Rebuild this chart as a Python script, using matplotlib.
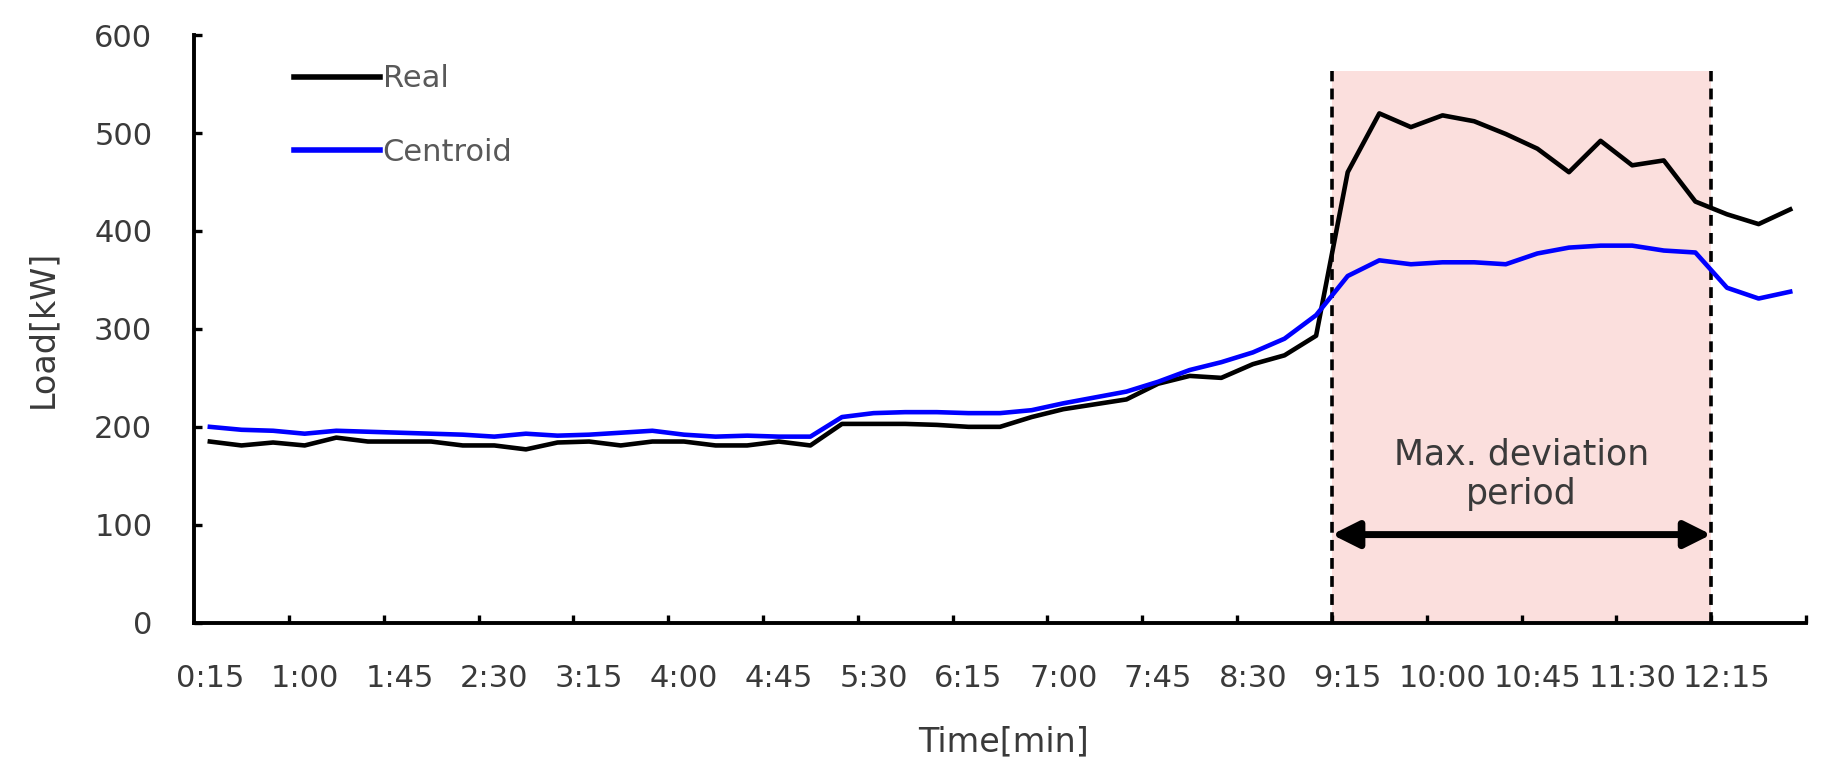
import numpy as np
import matplotlib.pyplot as plt

# 15-minute load profile, 0:15 .. 12:45
times = ['0:15', '0:30', '0:45', '1:00', '1:15', '1:30', '1:45', '2:00', '2:15',
         '2:30', '2:45', '3:00', '3:15', '3:30', '3:45', '4:00', '4:15', '4:30',
         '4:45', '5:00', '5:15', '5:30', '5:45', '6:00', '6:15', '6:30', '6:45',
         '7:00', '7:15', '7:30', '7:45', '8:00', '8:15', '8:30', '8:45', '9:00',
         '9:15', '9:30', '9:45', '10:00', '10:15', '10:30', '10:45', '11:00',
         '11:15', '11:30', '11:45', '12:00', '12:15', '12:30', '12:45']

real = [185, 181, 184, 181, 189, 185, 185, 185, 181, 181, 177, 184,
        185, 181, 185, 185, 181, 181, 185, 181, 203, 203, 203, 202,
        200, 200, 210, 218, 223, 228, 244, 252, 250, 264, 273, 293,
        460, 520, 506, 518, 512, 499, 484, 460, 492, 467, 472, 430,
        417, 407, 422]

centroid = [200, 197, 196, 193, 196, 195, 194, 193, 192, 190, 193, 191,
            192, 194, 196, 192, 190, 191, 190, 190, 210, 214, 215, 215,
            214, 214, 217, 224, 230, 236, 246, 258, 266, 276, 290, 314,
            354, 370, 366, 368, 368, 366, 377, 383, 385, 385, 380, 378,
            342, 331, 338]

# max. deviation period: 9:15 .. 12:00
period_start = '9:15'
period_end = '12:00'

x = np.arange(len(times))
x0 = times.index(period_start) - 0.5
x1 = times.index(period_end) + 0.5

fig = plt.figure(figsize=(18.41, 7.79), dpi=100)
ax = fig.add_axes([0.1054, 0.2006, 0.8756, 0.7544])

txt = '#3a3a3a'

# shaded period + dashed borders
ax.axvspan(x0, x1, ymin=0, ymax=563 / 600, color='#fbdfdd', lw=0, zorder=0)
for xv in (x0, x1):
    ax.plot([xv, xv], [0, 563], color='black', lw=2.6, ls=(0, (3, 2)), zorder=3)

ax.plot(x, real, color='black', lw=3.3, label='Real', zorder=4)
ax.plot(x, centroid, color='#0000ff', lw=3.3, label='Centroid', zorder=4)

ax.annotate('', xy=(x0, 90), xytext=(x1, 90),
            arrowprops=dict(arrowstyle='<|-|>', lw=5, color='black',
                            mutation_scale=40, shrinkA=0, shrinkB=0), zorder=5)
ax.text((x0 + x1) / 2, 152, 'Max. deviation\nperiod', ha='center', va='center',
        fontsize=25, color=txt, linespacing=1.2)

ax.set_xlim(-0.5, len(times) - 0.5)
ax.set_ylim(0, 600)

# labels every 3rd slot, tick marks between slots
ax.set_xticks(x[::3], [times[i] for i in x[::3]])
ax.set_xticks(np.arange(2.5, len(times), 3), minor=True)
ax.tick_params(axis='x', which='major', length=0, pad=30, labelsize=22, labelcolor=txt)
ax.tick_params(axis='x', which='minor', direction='in', length=6, width=2.4)
ax.set_yticks(range(0, 601, 100))
ax.tick_params(axis='y', direction='in', length=6, width=2.4, pad=30,
               labelsize=22, labelcolor=txt)

for s in ('top', 'right'):
    ax.spines[s].set_visible(False)
for s in ('left', 'bottom'):
    ax.spines[s].set_linewidth(2.8)

ax.set_xlabel('Time[min]', fontsize=24, color=txt, va='center')
ax.xaxis.set_label_coords(0.502, -0.203)
ax.set_ylabel('Load[kW]', fontsize=24, color=txt, va='center')
ax.yaxis.set_label_coords(-0.094, 0.5)

leg = ax.legend(loc='upper left', bbox_to_anchor=(0.062, 0.95), frameon=False,
                fontsize=22, handlelength=2.8, handletextpad=0.1,
                labelspacing=1.45, borderpad=0, borderaxespad=0)
for t in leg.get_texts():
    t.set_color('#595959')
for h in leg.get_lines():
    h.set_linewidth(4)

fig.savefig('out.png', dpi=100, facecolor='white')
